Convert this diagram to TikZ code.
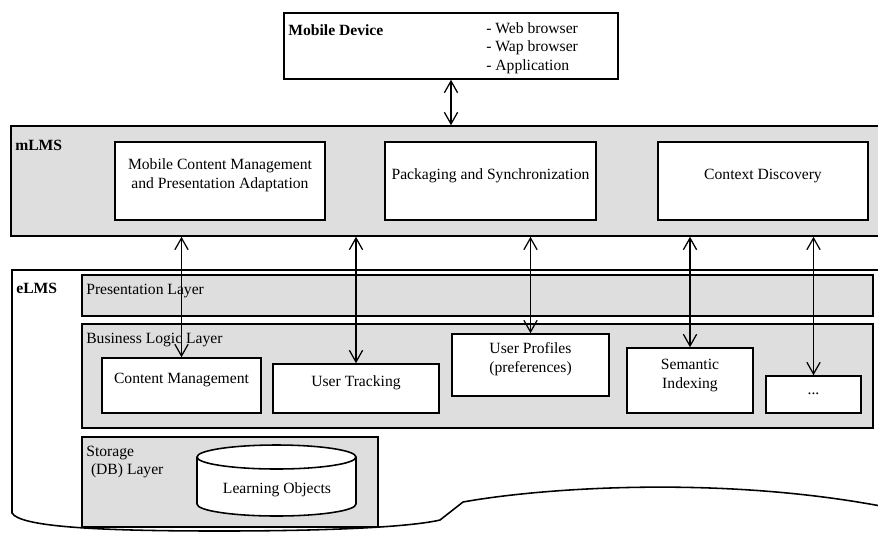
\documentclass[tikz,border=0pt]{standalone}
\usepackage{fontspec}
\setmainfont{Liberation Serif}
\usetikzlibrary{arrows.meta, fit, positioning}
\definecolor{layergray}{RGB}{222,222,222}

\begin{document}
\begin{tikzpicture}[x=0.64pt, y=-0.64pt,
    box/.style={draw, line width=1pt, fill=white, inner sep=0pt, align=center},
    layer/.style={draw, line width=1pt, fill=layergray, inner sep=0pt},
    caption/.style={anchor=west, inner sep=0pt},
    link/.style={{Straight Barb[length=7.5pt,width=8.5pt]}-{Straight Barb[length=7.5pt,width=8.5pt]}, line width=0.8pt}]
    \useasboundingbox (0,0) rectangle (878,533);

    % Mobile device
    \node[box, fit={(284,13) (618,79)}] (mobile) {};
    \node[caption, font=\bfseries] (mobiletitle) at (288,30) {Mobile Device};
    \node[caption, align=left] (mobilelist) at (486,48) {- Web browser\\- Wap browser\\- Application};

    % mLMS
    \node[layer, fit={(11,126) (886,236)}] (mlms) {};
    \node[caption, font=\bfseries] (mlmstitle) at (15,145) {mLMS};
    \node[box, fit={(115,142) (325,220)}] (adapt) {Mobile Content Management\\and Presentation Adaptation};
    \node[box, fit={(385,142) (596,220)}] (sync) {Packaging and Synchronization};
    \node[box, fit={(658,142) (868,220)}] (context) {Context Discovery};

    % eLMS
    \draw[line width=1pt, fill=white] (886,270) -- (12,270) -- (12,513)
        .. controls (20,527) and (100,531) .. (220,531)
        .. controls (330,531) and (410,527) .. (440,520) -- (463,502)
        .. controls (540,488) and (720,475) .. (886,507);
    \node[caption, font=\bfseries] (elmstitle) at (16,288) {eLMS};

    \node[layer, fit={(82,275) (873,316)}] (presentation) {};
    \node[caption] (presentationtitle) at (86,291) {Presentation Layer};

    \node[layer, fit={(82,324) (873,428)}] (business) {};
    \node[caption] (businesstitle) at (86,340) {Business Logic Layer};
    \node[box, fit={(102,358) (261,413)}] (content) {Content Management};
    \node[box, fit={(273,364) (439,413)}] (tracking) {User Tracking};
    \node[box, fit={(452,334) (609,396)}] (profiles) {User Profiles\\(preferences)};
    \node[box, fit={(627,348) (753,413)}] (indexing) {Semantic\\Indexing};
    \node[box, fit={(766,376) (861,413)}] (more) {...};

    % Storage
    \node[layer, fit={(82,437) (378,527)}] (storage) {};
    \node[caption, align=left] (storagetitle) at (86,462) {Storage\\\hspace*{3pt}(DB) Layer};
    \draw[line width=1pt, fill=white] (197,457) -- (197,504)
        arc[start angle=180, end angle=0, x radius=79.5, y radius=12] -- (356,457);
    \draw[line width=1pt, fill=white] (276.5,457) ellipse [x radius=79.5, y radius=12];
    \node (objects) at (277,490) {Learning Objects};

    % links
    \draw[link] (mobile.south) -- (mobile.south |- mlms.north);
    \foreach \target in {content, tracking, profiles, indexing, more} {
        \draw[link] (\target.north |- mlms.south) -- (\target.north);
    }
\end{tikzpicture}
\end{document}
